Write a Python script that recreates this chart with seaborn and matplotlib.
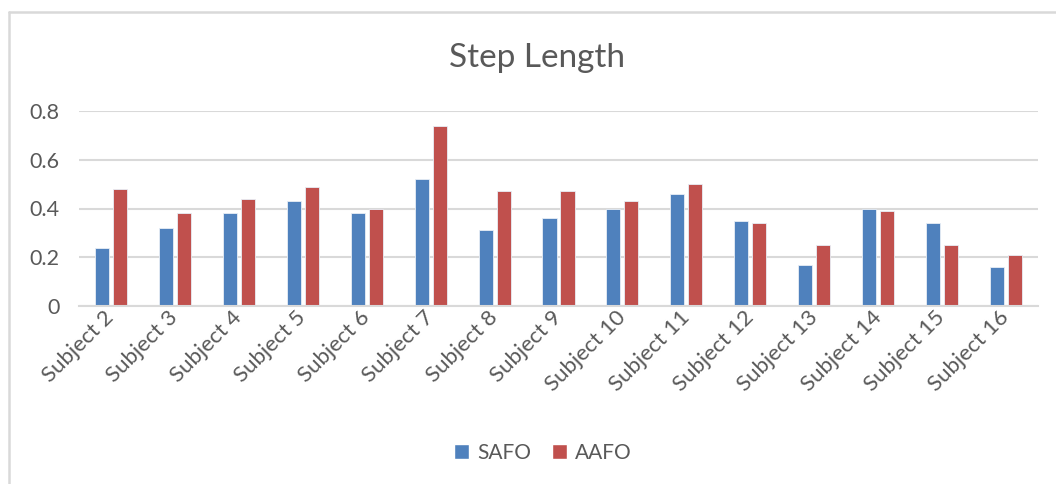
import matplotlib
matplotlib.use("Agg")
import matplotlib.pyplot as plt
from matplotlib.lines import Line2D
from matplotlib.patches import Patch
import pandas as pd
import seaborn as sns

subjects = ["Subject 2", "Subject 3", "Subject 4", "Subject 5", "Subject 6",
            "Subject 7", "Subject 8", "Subject 9", "Subject 10", "Subject 11",
            "Subject 12", "Subject 13", "Subject 14", "Subject 15", "Subject 16"]
safo = [0.24, 0.32, 0.38, 0.43, 0.38, 0.52, 0.31, 0.36, 0.40, 0.46,
        0.35, 0.17, 0.40, 0.34, 0.16]
aafo = [0.48, 0.38, 0.44, 0.49, 0.40, 0.74, 0.47, 0.47, 0.43, 0.50,
        0.34, 0.25, 0.39, 0.25, 0.21]
series = ["SAFO", "AAFO"]
y_ticks = [0, 0.2, 0.4, 0.6, 0.8]
y_tick_labels = ["0", "0.2", "0.4", "0.6", "0.8"]
title = "Step Length"

colors = {"SAFO": "#4F81BD", "AAFO": "#C0504D"}
text_gray = "#595959"
grid_gray = "#D9D9D9"

df = pd.DataFrame({
    "subject": subjects * 2,
    "value": safo + aafo,
    "series": [series[0]] * len(subjects) + [series[1]] * len(subjects),
})

sns.set_theme(style="white")
plt.rcParams["font.family"] = ["Lato", "DejaVu Sans"]

fig = plt.figure(figsize=(10.56, 4.84), dpi=100)
ax = fig.add_axes([79 / 1056, 1 - 306 / 484, (1038 - 79) / 1056, (306 - 111) / 484])

sns.barplot(data=df, x="subject", y="value", hue="series", order=subjects,
            hue_order=series, palette=colors, saturation=1, width=0.5625, gap=0.22,
            edgecolor="#E8EEF6", linewidth=0.6, errorbar=None, legend=False, ax=ax)

ax.set_ylim(0, 0.8)
ax.set_xlim(-0.5, len(subjects) - 0.5)
ax.set_yticks(y_ticks)
ax.set_yticklabels(y_tick_labels)
ax.yaxis.grid(True, color=grid_gray, linewidth=1.5)
ax.set_axisbelow(True)
for side in ["top", "right", "left"]:
    ax.spines[side].set_visible(False)
ax.spines["bottom"].set_color(grid_gray)
ax.spines["bottom"].set_linewidth(1.5)
ax.set_xlabel("")
ax.set_ylabel("")
ax.tick_params(axis="y", length=0, pad=14, labelsize=15.5, labelcolor=text_gray)
ax.tick_params(axis="x", length=0, pad=6, labelsize=16, labelcolor=text_gray)
for lbl in ax.get_xticklabels():
    lbl.set_rotation(45)
    lbl.set_ha("right")
    lbl.set_va("center")
    lbl.set_rotation_mode("anchor")

fig.text(537 / 1056, 1 - 67 / 484, title, ha="center", va="baseline",
         fontsize=24, color=text_gray)

handles = [Patch(facecolor=colors[s], edgecolor="#FFFFFF", label=s) for s in series]
fig.legend(handles=handles, loc="center", bbox_to_anchor=(543 / 1056, 1 - 453 / 484),
           ncol=2, frameon=False, fontsize=15, labelcolor=text_gray,
           handlelength=0.7, handleheight=0.7, handletextpad=0.4, columnspacing=1.0)

# light chart-area frame (top and left edges)
fig.add_artist(Line2D([9 / 1056, 1.0], [1 - 12 / 484, 1 - 12 / 484],
                      transform=fig.transFigure, color=grid_gray, linewidth=1.8))
fig.add_artist(Line2D([9 / 1056, 9 / 1056], [0.0, 1 - 12 / 484],
                      transform=fig.transFigure, color=grid_gray, linewidth=1.8))

fig.savefig("out.png", dpi=100, facecolor="white")
